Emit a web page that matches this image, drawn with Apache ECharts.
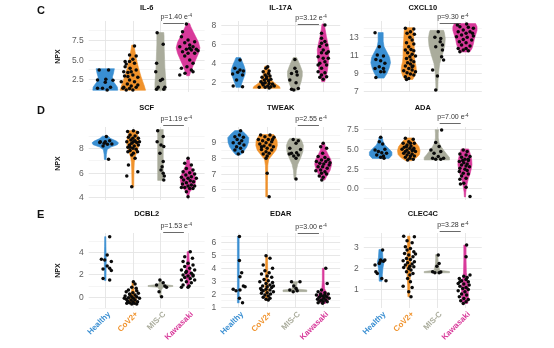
<!DOCTYPE html>
<html><head><meta charset="utf-8">
<script src="https://cdn.jsdelivr.net/npm/echarts@6/dist/echarts.min.js"></script>
<style>html,body{margin:0;padding:0;background:#fff}#c{width:554px;height:348px}</style>
</head><body><div id="c"></div><script>
const groups = ['Healthy','CoV2+','MIS-C','Kawasaki'];

// ---------- IL-6 ----------
const IL6_vals = [
 [3.69,3.69,2.42,2.50,2.37,2.12,1.36,1.36,1.14,1.48],
 [6.74,5.59,5.47,4.75,4.75,4.53,4.11,3.9,3.69,3.35,3.05,2.92,2.75,2.42,2.2,2.2,1.91,1.65,1.48,1.48,1.31,1.14,1.14,1.36,1.78,2.84,3.47,4.45,5.04,3.47],
 [8.43,6.95,4.53,3.47,2.5,2.33,1.48,1.23,1.23,1.48],
 [8.56,7.92,7.5,7.29,7.16,6.65,6.86,6.65,6.31,6.23,6.14,6.02,5.8,5.8,5.47,4.96,4.53,4.11,3.9,3.69,3.26,3.47,3.05,6.31,6.44,9.53]
];
const IL6_jit = [
 [-0.22,0.12,-0.28,0.02,0.28,0.0,-0.28,-0.1,0.07,0.19],
 [0.06,-0.12,0.12,-0.28,-0.12,0.06,-0.28,-0.1,0.12,-0.18,0.0,-0.3,0.18,-0.12,-0.42,0.06,-0.2,-0.06,-0.33,0.12,-0.12,-0.24,0.0,-0.36,0.18,-0.18,-0.06,-0.24,0.0,-0.33],
 [-0.12,0.1,-0.14,-0.17,0.07,0.0,-0.08,0.12,-0.14,0.16],
 [-0.2,-0.24,0.0,0.24,-0.12,-0.3,0.06,0.18,-0.06,0.12,0.36,-0.2,0.0,0.24,-0.12,0.06,0.18,-0.04,-0.24,0.12,-0.11,0.18,-0.3,0.3,0.06,-0.06]
];
const IL6_violin = [
 [[1.1,0.45],[1.5,0.44],[1.9,0.36],[2.3,0.27],[2.8,0.26],[3.3,0.3],[3.85,0.33]],
 [[1.1,0.46],[1.6,0.42],[2.2,0.36],[2.8,0.3],[3.4,0.25],[4.0,0.2],[4.6,0.16],[5.2,0.12],[5.8,0.09],[6.4,0.06],[6.85,0.04]],
 [[1.1,0.2],[2,0.2],[3,0.18],[4,0.16],[5,0.15],[6,0.14],[7,0.13],[8,0.13],[8.45,0.12]],
 [[2.95,0.05],[3.5,0.1],[4.2,0.18],[5,0.28],[5.8,0.38],[6.5,0.43],[7.2,0.38],[7.9,0.28],[8.6,0.18],[9.2,0.1],[9.6,0.06]]
];
const IL6_ticks = [2.5,5,7.5];
const IL6_tickLabels = ['2.5','5.0','7.5'];
const IL6_minor = [1.25,3.75,6.25,8.75];
const IL6_p = ['p=1.40 e','-4'];
const IL6_pY = 9.7;

// ---------- IL-17A ----------
const IL17A_vals = [
 [3.41,3.24,3.13,2.81,2.99,2.71,2.18,1.54,1.47,4.29],
 [3.59,3.41,3.13,3.06,2.88,2.71,2.6,2.46,2.35,2.25,2.18,2.11,2.0,1.89,1.82,1.75,1.65,1.54,1.47,1.4,1.4,1.33,1.54,2.53,1.82],
 [4.36,3.41,3.06,2.88,2.18,1.89,1.29,1.19,1.12,2.71],
 [8.0,7.12,6.59,6.24,6.06,5.88,5.71,5.35,5.18,5.07,5.0,4.65,4.47,4.47,4.12,3.94,3.76,3.76,3.41,3.06,2.95,2.71,2.46,2.53,2.25]
];
const IL17A_jit = [
 [-0.12,0.06,0.18,-0.2,-0.02,0.15,-0.06,-0.18,0.15,0.06],
 [0.04,-0.02,0.09,-0.12,0.07,-0.05,0.12,-0.16,0.0,0.15,-0.08,0.07,-0.2,-0.05,0.09,0.21,-0.12,0.04,0.15,-0.26,-0.05,0.09,0.27,0.0,-0.14],
 [0.0,0.0,0.06,-0.12,-0.18,0.04,0.12,-0.12,-0.04,0.08],
 [0.06,-0.06,-0.06,0.06,-0.06,0.12,-0.12,0.0,0.18,-0.06,0.12,-0.18,0.0,0.18,0.06,-0.12,-0.18,0.12,-0.06,-0.18,0.06,-0.06,-0.12,0.12,0.0]
];
const IL17A_violin = [
 [[1.4,0.08],[1.8,0.12],[2.3,0.18],[2.8,0.24],[3.2,0.25],[3.7,0.2],[4.2,0.13],[4.55,0.08]],
 [[1.3,0.48],[1.5,0.45],[1.8,0.3],[2.1,0.2],[2.5,0.14],[3,0.1],[3.4,0.08],[3.65,0.06]],
 [[1.1,0.1],[1.5,0.16],[2,0.22],[2.6,0.26],[3.1,0.26],[3.6,0.2],[4.1,0.13],[4.55,0.06]],
 [[2.0,0.05],[2.5,0.1],[3.2,0.15],[4,0.18],[4.8,0.2],[5.4,0.21],[6.0,0.17],[6.8,0.11],[7.5,0.07],[8.1,0.04]]
];
const IL17A_ticks = [2,4,6,8];
const IL17A_tickLabels = ['2','4','6','8'];
const IL17A_minor = [1,3,5,7];
const IL17A_p = ['p=3.12 e','-4'];
const IL17A_pY = 8.1;

// ---------- CXCL10 ----------
const CXCL10_vals = [
 [13.44,11.89,10.96,10.85,10.48,10.33,10.04,9.67,9.48,9.48,9.11,9.11,8.48],
 [13.93,13.85,13.56,13.37,13.26,12.93,12.63,12.33,12.19,11.89,11.59,11.52,11.44,11.22,11.04,10.78,10.85,10.59,10.41,10.22,10.11,9.96,9.74,9.74,9.48,9.3,9.22,9.11,9.0,8.85,8.74,8.56,8.37,8.26,9.67],
 [13.56,12.93,12.81,12.44,12.07,11.89,11.52,10.78,10.41,9.3,8.63,7.07],
 [14.3,14.41,14.11,14.04,13.93,13.74,13.56,13.56,13.37,13.19,13.07,13.0,12.93,12.7,12.63,12.44,12.33,12.07,11.96,11.7,11.7,11.52,11.33,11.44,13.37]
];
const CXCL10_jit = [
 [-0.2,-0.05,-0.12,0.1,-0.17,0.0,0.15,-0.05,0.1,-0.2,0.0,0.12,-0.17],
 [-0.12,0.18,0.06,-0.06,0.2,0.04,0.12,-0.08,0.18,0.0,0.08,-0.12,0.18,-0.04,0.12,0.04,0.24,-0.08,0.08,0.18,-0.04,0.06,-0.12,0.15,0.0,0.12,-0.18,0.24,-0.06,0.06,0.18,-0.12,0.0,-0.08,0.12],
 [0.05,-0.07,0.14,0.12,0.2,-0.04,0.2,0.17,0.24,-0.15,0.02,-0.04],
 [-0.27,0.06,-0.18,0.12,0.3,-0.06,-0.24,0.18,0.04,-0.12,0.3,-0.3,0.08,-0.06,0.24,-0.2,0.04,-0.12,0.18,-0.24,0.04,-0.06,-0.18,0.12,0.27]
];
const CXCL10_violin = [
 [[8.4,0.12],[8.9,0.22],[9.5,0.3],[10.1,0.35],[10.7,0.32],[11.3,0.22],[11.9,0.12],[12.5,0.09],[13.45,0.09]],
 [[8.25,0.14],[8.7,0.22],[9.2,0.27],[9.7,0.26],[10.2,0.22],[10.8,0.2],[11.4,0.2],[12,0.19],[12.6,0.18],[13.2,0.17],[13.7,0.16],[14.0,0.15]],
 [[7.05,0.03],[8,0.04],[9,0.06],[10,0.1],[11,0.2],[12,0.28],[12.8,0.3],[13.4,0.27],[13.7,0.24]],
 [[11.3,0.17],[11.7,0.25],[12.2,0.3],[12.7,0.33],[13.2,0.38],[13.7,0.43],[14.1,0.43],[14.45,0.38]]
];
const CXCL10_ticks = [7,9,11,13];
const CXCL10_tickLabels = ['7','9','11','13'];
const CXCL10_minor = [8,10,12,14];
const CXCL10_p = ['p=9.30 e','-4'];
const CXCL10_pY = 14.56;

// ---------- SCF ----------
const SCF_vals = [
 [8.97,8.55,8.63,8.41,8.33,8.19,8.36,8.47,7.09,8.55],
 [9.38,9.46,9.3,9.1,9.02,8.91,8.83,8.83,8.69,8.63,8.55,8.47,8.41,8.28,8.19,8.28,8.08,8.0,7.92,7.81,7.72,7.72,7.59,7.45,7.17,6.62,5.71,6.07,4.83,8.55,8.08,8.55],
 [9.46,8.55,8.97,8.28,8.14,7.59,6.9,6.48,6.21,5.93,5.71,5.38],
 [7.17,6.76,6.62,6.34,6.21,6.07,5.99,5.88,5.79,5.66,5.6,5.52,5.52,5.38,5.32,5.24,5.16,5.05,4.97,4.88,4.88,4.77,4.69,4.77,4.69,4.41,4.0]
];
const SCF_jit = [
 [0.04,-0.18,0.16,-0.04,0.08,-0.08,0.24,-0.2,0.12,0.0],
 [-0.19,0.02,0.17,-0.1,0.08,-0.16,0.0,0.2,-0.07,0.08,-0.22,0.14,-0.04,-0.12,0.05,0.2,-0.18,0.0,0.12,-0.1,0.17,-0.18,0.02,-0.04,0.08,-0.16,-0.22,0.18,-0.04,0.02,-0.1,0.24],
 [-0.1,-0.12,0.1,0.02,0.12,-0.02,0.1,0.06,0.02,0.1,0.14,0.12],
 [0.0,-0.12,0.12,-0.06,0.18,-0.18,0.06,0.24,-0.08,0.12,-0.24,0.0,0.3,-0.16,0.08,0.2,-0.06,-0.2,0.12,0.0,0.24,-0.12,0.06,-0.24,0.18,-0.06,0.0]
];
const SCF_violin = [
 [[7.08,0.03],[7.5,0.04],[7.9,0.07],[8.1,0.2],[8.3,0.44],[8.45,0.48],[8.6,0.4],[8.8,0.2],[9.0,0.1]],
 [[4.8,0.03],[5.5,0.035],[6.2,0.04],[6.8,0.05],[7.3,0.08],[7.7,0.15],[8.1,0.2],[8.5,0.22],[8.9,0.2],[9.2,0.16],[9.46,0.13]],
 [[5.35,0.1],[6,0.1],[7,0.1],[8,0.1],[9,0.1],[9.55,0.1]],
 [[4.0,0.02],[4.4,0.06],[4.7,0.18],[5.0,0.25],[5.4,0.28],[5.8,0.24],[6.2,0.16],[6.6,0.08],[7.2,0.03]]
];
const SCF_ticks = [4,6,8];
const SCF_tickLabels = ['4','6','8'];
const SCF_minor = [5,7,9];
const SCF_p = ['p=1.19 e','-4'];
const SCF_pY = 9.95;

// ---------- TWEAK ----------
const TWEAK_vals = [
 [9.74,9.47,9.36,9.32,9.19,9.11,8.98,8.94,8.83,8.72,8.62,8.51,8.4,8.26],
 [9.47,9.47,9.36,9.32,9.19,9.19,9.11,9.04,8.98,8.89,8.83,8.77,8.72,8.62,8.55,8.51,8.4,8.3,8.26,8.13,7.98,7.02,5.53,9.19,8.72],
 [9.19,9.11,8.94,8.62,8.55,8.34,8.3,8.19,8.13,8.26,7.98,6.66],
 [8.94,8.72,8.62,8.3,8.09,8.04,7.91,7.87,7.77,7.77,7.66,7.62,7.55,7.45,7.45,7.34,7.23,7.19,7.13,7.02,6.98,6.85,6.77,6.6,7.7]
];
const TWEAK_jit = [
 [0.08,0.04,-0.12,0.18,-0.04,0.12,-0.18,0.04,0.2,-0.06,0.08,-0.12,0.15,0.0],
 [-0.21,0.12,-0.06,0.26,-0.29,0.06,-0.14,0.18,-0.02,-0.24,0.12,-0.09,0.24,0.02,-0.18,0.18,-0.02,0.09,-0.12,0.02,-0.02,0.02,0.09,0.21,-0.18],
 [-0.06,0.12,0.04,-0.18,0.2,0.06,-0.12,0.12,-0.04,-0.2,0.04,0.04],
 [0.0,-0.09,0.12,-0.02,-0.18,0.06,0.18,-0.06,-0.24,0.09,-0.12,0.02,0.21,-0.18,-0.02,0.14,-0.09,-0.26,0.06,-0.06,0.12,-0.14,0.0,-0.05,0.24]
];
const TWEAK_violin = [
 [[8.2,0.08],[8.4,0.18],[8.7,0.3],[9.0,0.36],[9.3,0.37],[9.55,0.25],[9.75,0.12]],
 [[5.53,0.03],[6.5,0.03],[7.5,0.04],[7.9,0.07],[8.2,0.2],[8.5,0.33],[8.8,0.38],[9.1,0.37],[9.35,0.3],[9.5,0.25]],
 [[6.65,0.03],[7.2,0.05],[7.6,0.1],[8.0,0.2],[8.4,0.28],[8.8,0.3],[9.1,0.24],[9.25,0.18]],
 [[6.6,0.06],[6.9,0.14],[7.2,0.24],[7.6,0.3],[7.9,0.27],[8.2,0.18],[8.5,0.1],[8.95,0.05]]
];
const TWEAK_ticks = [6,7,8,9];
const TWEAK_tickLabels = ['6','7','8','9'];
const TWEAK_minor = [5.5,6.5,7.5,8.5,9.5];
const TWEAK_p = ['p=2.55 e','-4'];
const TWEAK_pY = 10.12;

// ---------- ADA ----------
const ADA_vals = [
 [6.48,5.93,5.64,4.87,4.96,4.66,4.53,4.45,4.24,4.11,3.94,3.81],
 [6.36,6.23,5.93,5.72,5.72,5.51,5.38,5.21,5.08,5.08,4.96,4.87,4.79,4.66,4.66,4.53,4.45,4.36,4.24,4.11,4.11,3.94,3.81,3.69,3.6,4.87,5.3,5.72],
 [7.42,5.81,5.3,4.87,4.66,4.45,4.03,3.81,3.69,3.69,3.81],
 [4.87,4.66,4.36,4.24,4.03,3.94,3.69,3.52,3.39,3.26,3.09,2.97,2.84,2.75,2.54,2.42,2.25,2.12,1.91,1.82,1.57,1.27,1.14,0.64,0.55,0.13,-1.06,3.69,3.52]
];
const ADA_jit = [
 [0.0,-0.05,0.07,-0.2,0.15,-0.08,0.04,0.21,-0.14,0.1,0.0,0.12],
 [-0.12,0.16,0.0,-0.2,0.2,-0.06,0.08,-0.16,0.04,0.18,-0.24,-0.06,0.12,-0.12,0.24,0.0,-0.18,0.12,-0.06,0.06,0.2,-0.12,0.04,0.16,-0.04,0.18,-0.08,0.06],
 [0.17,-0.04,0.08,-0.21,0.14,-0.1,0.05,-0.15,0.14,-0.04,0.24],
 [-0.06,0.08,-0.18,0.04,0.18,-0.12,0.0,0.12,-0.2,-0.04,0.08,-0.12,0.04,0.16,-0.18,0.0,0.08,-0.2,-0.06,0.12,-0.12,0.04,-0.18,-0.04,-0.16,0.04,0.18,0.12,-0.08]
];
const ADA_violin = [
 [[3.8,0.3],[4.2,0.4],[4.6,0.4],[5.0,0.3],[5.5,0.15],[6.0,0.08],[6.5,0.06]],
 [[3.5,0.1],[3.9,0.28],[4.3,0.38],[4.8,0.4],[5.3,0.36],[5.8,0.25],[6.2,0.16],[6.4,0.12]],
 [[3.6,0.45],[3.9,0.45],[4.3,0.36],[4.8,0.25],[5.3,0.15],[5.8,0.08],[6.4,0.05],[7.0,0.05],[7.45,0.06]],
 [[-1.1,0.02],[-0.5,0.03],[0,0.05],[0.6,0.08],[1.2,0.12],[1.8,0.18],[2.4,0.22],[3.0,0.25],[3.6,0.24],[4.2,0.2],[4.7,0.16],[5.0,0.13]]
];
const ADA_ticks = [0,2.5,5,7.5];
const ADA_tickLabels = ['0.0','2.5','5.0','7.5'];
const ADA_minor = [-1.25,1.25,3.75,6.25];
const ADA_p = ['p=7.00 e','-4'];
const ADA_pY = 8.26;

// ---------- DCBL2 ----------
const DCBL2_vals = [
 [5.41,3.76,3.37,3.31,3.16,2.77,2.56,2.5,2.35,1.65,1.5],
 [1.35,1.14,0.84,0.6,0.54,0.45,0.36,0.3,0.24,0.15,0.06,0.0,0.0,-0.09,-0.15,-0.15,-0.24,-0.3,-0.3,-0.39,-0.45,-0.45,-0.54,-0.6,-0.6,-0.66,-0.66,0.15,0.75,-0.15],
 [1.5,1.26,1.05,0.96,0.84,0.45,0.0],
 [4.06,3.61,3.46,3.16,3.01,2.86,2.71,2.56,2.41,2.41,2.26,2.11,1.95,1.86,1.86,1.74,1.65,1.5,1.5,1.35,1.26,1.05,0.96,1.95,0.84,0.84,2.17]
];
const DCBL2_jit = [
 [0.16,0.07,-0.14,-0.02,0.22,0.07,0.16,-0.08,0.22,-0.08,0.16],
 [0.02,0.08,-0.04,-0.16,0.14,-0.24,0.0,0.2,-0.12,0.08,-0.28,-0.04,0.14,-0.16,0.02,0.24,-0.24,-0.07,0.08,-0.19,0.0,0.17,-0.12,0.05,-0.22,-0.04,0.14,-0.1,0.12,-0.31],
 [-0.02,0.1,-0.14,0.16,0.22,-0.05,0.04],
 [0.08,-0.12,0.16,-0.18,0.0,0.18,-0.12,0.06,-0.24,0.24,-0.06,0.12,-0.18,0.0,0.18,-0.12,0.08,-0.24,0.24,-0.06,0.12,-0.18,0.04,0.18,-0.24,0.0,-0.08]
];
const DCBL2_violin = [
 [[1.45,0.025],[2.5,0.03],[3.3,0.035],[4.5,0.025],[5.41,0.02]],
 [[-0.66,0.1],[-0.3,0.14],[0,0.12],[0.3,0.08],[0.6,0.04],[1.0,0.03],[1.35,0.03]],
 [[0.0,0.02],[0.6,0.03],[0.85,0.1],[0.92,0.45],[1.0,0.45],[1.1,0.1],[1.3,0.04],[1.5,0.03]],
 [[0.84,0.03],[1.3,0.05],[1.8,0.09],[2.2,0.1],[2.7,0.06],[3.3,0.04],[4.06,0.03]]
];
const DCBL2_ticks = [0,2,4];
const DCBL2_tickLabels = ['0','2','4'];
const DCBL2_minor = [-1,1,3,5];
const DCBL2_p = ['p=1.53 e','-4'];
const DCBL2_pY = 5.86;

// ---------- EDAR ----------
const EDAR_vals = [
 [6.44,4.58,3.64,3.33,2.61,2.35,2.24,2.3,2.55,1.65,1.31],
 [4.96,4.76,4.24,3.98,3.8,3.64,3.54,3.38,3.28,3.12,3.02,2.94,2.87,2.81,2.68,2.61,2.55,2.5,2.42,2.35,2.3,2.24,2.17,2.09,2.04,1.98,1.91,1.83,1.73,1.65,1.57,1.52,2.3,2.61],
 [2.94,2.94,2.61,2.42,2.3,2.24,2.17],
 [3.98,2.81,2.3,2.17,2.09,1.98,1.98,1.91,1.83,1.78,1.73,1.65,1.65,1.57,1.52,1.52,1.44,1.39,1.39,1.31,1.26,1.83,1.91]
];
const EDAR_jit = [
 [0.04,0.04,0.12,0.06,0.18,-0.18,-0.08,0.06,0.24,0.04,0.15],
 [-0.02,0.12,-0.12,0.21,-0.06,0.09,-0.18,0.02,0.18,-0.09,0.06,-0.24,0.21,-0.02,0.12,-0.14,0.02,0.18,-0.21,-0.02,0.12,-0.12,0.24,0.02,-0.18,0.14,-0.06,0.06,-0.12,0.12,-0.02,0.06,-0.18,0.24],
 [-0.12,0.18,-0.04,0.04,-0.18,0.08,-0.06],
 [0.09,0.14,-0.06,-0.18,0.06,-0.09,0.18,-0.24,0.0,0.12,-0.14,0.02,0.21,-0.2,-0.06,0.09,-0.12,0.0,0.14,-0.18,-0.02,-0.09,0.06]
];
const EDAR_violin = [
 [[1.3,0.03],[6.44,0.03]],
 [[1.5,0.04],[2.0,0.06],[2.5,0.06],[3.0,0.05],[3.5,0.04],[4.2,0.035],[4.96,0.03]],
 [[2.17,0.42],[2.3,0.42],[2.36,0.12],[2.6,0.06],[2.85,0.08],[2.94,0.15]],
 [[1.25,0.08],[1.5,0.18],[1.8,0.2],[2.1,0.12],[2.4,0.05],[3.0,0.03],[3.98,0.03]]
];
const EDAR_ticks = [1,2,3,4,5,6];
const EDAR_tickLabels = ['1','2','3','4','5','6'];
const EDAR_minor = [1.5,2.5,3.5,4.5,5.5,6.5];
const EDAR_p = ['p=3.00 e','-4'];
const EDAR_pY = 6.75;

// ---------- CLEC4C ----------
const CLEC4C_vals = [
 [2.87,2.39,2.34,2.15,2.23,2.39,1.83,1.75,1.51,1.4,2.31],
 [3.54,3.51,3.32,3.22,3.03,2.95,2.79,2.71,2.63,2.55,2.47,2.42,2.36,2.31,2.26,2.2,2.15,2.1,2.07,2.04,1.99,1.91,1.83,1.75,1.14,1.67,1.51,1.35,1.08,0.87,0.63,2.68,2.87],
 [2.63,2.23,2.1,1.83,1.78,1.78,1.82],
 [3.11,2.55,1.62,1.67,1.51,1.46,1.4,1.35,1.27,1.24,1.19,1.14,1.08,1.03,0.98,0.92,0.87,0.76,0.71,0.63,0.55,0.5,0.44,0.39,0.31,1.35,1.56]
];
const CLEC4C_jit = [
 [0.07,0.0,0.1,-0.2,-0.05,0.15,-0.17,-0.12,0.04,0.19,-0.02],
 [-0.18,0.2,-0.06,0.12,-0.12,0.06,0.18,-0.15,0.0,0.15,-0.08,0.06,-0.2,0.2,-0.04,0.12,-0.12,0.04,0.18,-0.18,0.0,0.08,-0.08,0.15,-0.2,0.04,-0.04,0.06,0.12,0.0,0.08,0.24,-0.06],
 [0.05,0.08,0.0,-0.15,-0.07,0.08,0.14],
 [0.06,0.04,-0.04,0.18,-0.2,0.04,-0.12,0.12,-0.24,-0.04,0.15,-0.18,0.04,-0.08,0.12,-0.24,0.0,-0.12,0.06,-0.2,-0.04,0.12,-0.15,0.04,-0.06,-0.18,0.08]
];
const CLEC4C_violin = [
 [[1.38,0.05],[1.7,0.06],[2.0,0.08],[2.3,0.12],[2.5,0.08],[2.9,0.06]],
 [[0.63,0.03],[1.2,0.04],[1.7,0.06],[2.1,0.08],[2.5,0.07],[3.0,0.05],[3.54,0.04]],
 [[1.78,0.45],[1.84,0.45],[1.9,0.1],[2.2,0.05],[2.5,0.04],[2.65,0.05]],
 [[0.31,0.1],[0.6,0.12],[0.9,0.12],[1.2,0.12],[1.5,0.08],[1.8,0.05],[2.4,0.04],[3.11,0.04]]
];
const CLEC4C_ticks = [1,2,3];
const CLEC4C_tickLabels = ['1','2','3'];
const CLEC4C_minor = [0.5,1.5,2.5,3.5];
const CLEC4C_p = ['p=3.28 e','-4'];
const CLEC4C_pY = 3.8;

// ---------- layout & style ----------
const COLORS = ['#3A8FD2','#F0922B','#AAAC9C','#D8399A'];
const FONT = '"Liberation Sans", Arial, sans-serif';
const cols = [{left:88.7,width:115.9},{left:221.3,width:118.9},{left:363.8,width:118}];
const rows = [
  {top:21,height:71,titleY:8,letter:'C',letterY:11},
  {top:127,height:73,titleY:107.5,letter:'D',letterY:111},
  {top:233,height:75,titleY:214,letter:'E',letterY:215}
];
const panels = [
 {name:'IL-6',vals:IL6_vals,jit:IL6_jit,violin:IL6_violin,ticks:IL6_ticks,labels:IL6_tickLabels,minor:IL6_minor,p:IL6_p,pY:IL6_pY,row:0,col:0,yMin:0.88,yMax:9.92},
 {name:'IL-17A',vals:IL17A_vals,jit:IL17A_jit,violin:IL17A_violin,ticks:IL17A_ticks,labels:IL17A_tickLabels,minor:IL17A_minor,p:IL17A_p,pY:IL17A_pY,row:0,col:1,yMin:0.91,yMax:8.42},
 {name:'CXCL10',vals:CXCL10_vals,jit:CXCL10_jit,violin:CXCL10_violin,ticks:CXCL10_ticks,labels:CXCL10_tickLabels,minor:CXCL10_minor,p:CXCL10_p,pY:CXCL10_pY,row:0,col:2,yMin:6.86,yMax:14.74},
 {name:'SCF',vals:SCF_vals,jit:SCF_jit,violin:SCF_violin,ticks:SCF_ticks,labels:SCF_tickLabels,minor:SCF_minor,p:SCF_p,pY:SCF_pY,row:1,col:0,yMin:3.73,yMax:9.76},
 {name:'TWEAK',vals:TWEAK_vals,jit:TWEAK_jit,violin:TWEAK_violin,ticks:TWEAK_ticks,labels:TWEAK_tickLabels,minor:TWEAK_minor,p:TWEAK_p,pY:TWEAK_pY,row:1,col:1,yMin:5.32,yMax:9.98},
 {name:'ADA',vals:ADA_vals,jit:ADA_jit,violin:ADA_violin,ticks:ADA_ticks,labels:ADA_tickLabels,minor:ADA_minor,p:ADA_p,pY:ADA_pY,row:1,col:2,yMin:-1.49,yMax:7.79},
 {name:'DCBL2',vals:DCBL2_vals,jit:DCBL2_jit,violin:DCBL2_violin,ticks:DCBL2_ticks,labels:DCBL2_tickLabels,minor:DCBL2_minor,p:DCBL2_p,pY:DCBL2_pY,row:2,col:0,yMin:-1.02,yMax:5.74},
 {name:'EDAR',vals:EDAR_vals,jit:EDAR_jit,violin:EDAR_violin,ticks:EDAR_ticks,labels:EDAR_tickLabels,minor:EDAR_minor,p:EDAR_p,pY:EDAR_pY,row:2,col:1,yMin:0.9,yMax:6.72},
 {name:'CLEC4C',vals:CLEC4C_vals,jit:CLEC4C_jit,violin:CLEC4C_violin,ticks:CLEC4C_ticks,labels:CLEC4C_tickLabels,minor:CLEC4C_minor,p:CLEC4C_p,pY:CLEC4C_pY,row:2,col:2,yMin:0.09,yMax:3.69}
];

const grid = [], xAxis = [], yAxis = [], series = [], graphic = [];

panels.forEach((p, i) => {
  const c = cols[p.col], r = rows[p.row];
  grid.push({left:c.left, top:r.top, width:c.width, height:r.height});
  xAxis.push({type:'value', gridIndex:i, min:-0.6, max:3.6, show:false});
  yAxis.push({type:'value', gridIndex:i, min:p.yMin, max:p.yMax, show:false});

  // background grid, tick labels, category labels
  series.push({
    type:'custom', xAxisIndex:i, yAxisIndex:i, silent:true, z:1, clip:false,
    data:[[0, p.yMin]],
    renderItem:(params, api) => {
      const cs = params.coordSys;
      const L = cs.x, R = cs.x + cs.width, T = cs.y, B = cs.y + cs.height;
      const ch = [];
      p.minor.forEach(v => {
        if (v < p.yMin || v > p.yMax) return;
        const y = Math.round(api.coord([0, v])[1]) + 0.5;
        ch.push({type:'line', shape:{x1:L,y1:y,x2:R,y2:y}, style:{stroke:'#f0f0f0', lineWidth:0.7}});
      });
      p.ticks.forEach((v, k) => {
        const y = Math.round(api.coord([0, v])[1]) + 0.5;
        ch.push({type:'line', shape:{x1:L,y1:y,x2:R,y2:y}, style:{stroke:'#e4e4e4', lineWidth:0.9}});
        ch.push({type:'text', x:L-5, y:y, style:{text:p.labels[k], fill:'#5c5c5c', font:'8.5px '+FONT, align:'right', textAlign:'right', verticalAlign:'middle', textVerticalAlign:'middle'}});
      });
      groups.forEach((g, gi) => {
        const x = Math.round(api.coord([gi, p.yMin])[0]) + 0.5;
        ch.push({type:'line', shape:{x1:x,y1:T,x2:x,y2:B}, style:{stroke:'#e4e4e4', lineWidth:0.9}});
        if (p.row === 2) {
          const pt = api.coord([gi, p.yMin]);
          ch.push({type:'text', x:pt[0]+4, y:pt[1]+5, rotation:Math.PI/4,
            style:{text:g, fill:COLORS[gi], font:'bold 8px '+FONT, align:'right', textAlign:'right', verticalAlign:'middle', textVerticalAlign:'middle'}});
        }
      });
      return {type:'group', children:ch};
    }
  });

  // violins
  series.push({
    type:'custom', xAxisIndex:i, yAxisIndex:i, silent:true, z:2, clip:false,
    data: groups.map((g, gi) => [gi, p.violin[gi][0][0]]),
    renderItem:(params, api) => {
      const gi = params.dataIndex;
      const prof = p.violin[gi];
      const pts = [];
      prof.forEach(([y, hw]) => pts.push(api.coord([gi + hw, y])));
      for (let k = prof.length - 1; k >= 0; k--) pts.push(api.coord([gi - prof[k][1], prof[k][0]]));
      return {type:'polygon', shape:{points:pts}, style:{fill:COLORS[gi], stroke:COLORS[gi], lineWidth:0.6}};
    }
  });

  // jittered points
  const pts = [];
  p.vals.forEach((arr, gi) => arr.forEach((v, k) => pts.push([gi + (p.jit[gi][k] || 0), v])));
  series.push({
    type:'scatter', xAxisIndex:i, yAxisIndex:i, silent:true, z:3,
    symbol:'circle', symbolSize:3.5, itemStyle:{color:'#0a0a0a', opacity:1},
    data: pts
  });

  // p-value bracket
  series.push({
    type:'custom', xAxisIndex:i, yAxisIndex:i, silent:true, z:4, clip:false,
    data:[[2.5, p.pY]],
    renderItem:(params, api) => {
      const a = api.coord([2.1, p.pY]), b = api.coord([2.85, p.pY]), m = api.coord([2.57, p.pY]);
      const y = Math.round(a[1]) + 0.5;
      return {type:'group', children:[
        {type:'line', shape:{x1:a[0],y1:y,x2:b[0],y2:y}, style:{stroke:'#444', lineWidth:0.8}},
        {type:'text', x:m[0], y:y-6, style:{
          text:'{a|'+p.p[0]+'}{s|'+p.p[1]+'}', align:'center', textAlign:'center', verticalAlign:'middle', textVerticalAlign:'middle',
          rich:{a:{fontSize:7, fontFamily:FONT, fill:'#333', color:'#333', lineHeight:9},
                s:{fontSize:4.5, fontFamily:FONT, fill:'#333', color:'#333', verticalAlign:'top', lineHeight:9}}
        }}
      ]};
    }
  });

  graphic.push({type:'text', x:c.left + c.width/2, y:r.titleY, style:{text:p.name, font:'bold 7.5px '+FONT, fill:'#111', align:'center', textAlign:'center', verticalAlign:'middle', textVerticalAlign:'middle'}});
});

rows.forEach(r => {
  graphic.push({type:'text', x:37, y:r.letterY, style:{text:r.letter, font:'bold 11px '+FONT, fill:'#111', align:'left', textAlign:'left', verticalAlign:'middle', textVerticalAlign:'middle'}});
  graphic.push({type:'text', x:58, y:r.top + r.height/2, rotation:Math.PI/2, style:{text:'NPX', font:'bold 7px '+FONT, fill:'#111', align:'center', textAlign:'center', verticalAlign:'middle', textVerticalAlign:'middle'}});
});

const chart = echarts.init(document.getElementById('c'), null, {renderer:'canvas'});
chart.setOption({animation:false, backgroundColor:'#fff', grid, xAxis, yAxis, series, graphic});
</script></body></html>
